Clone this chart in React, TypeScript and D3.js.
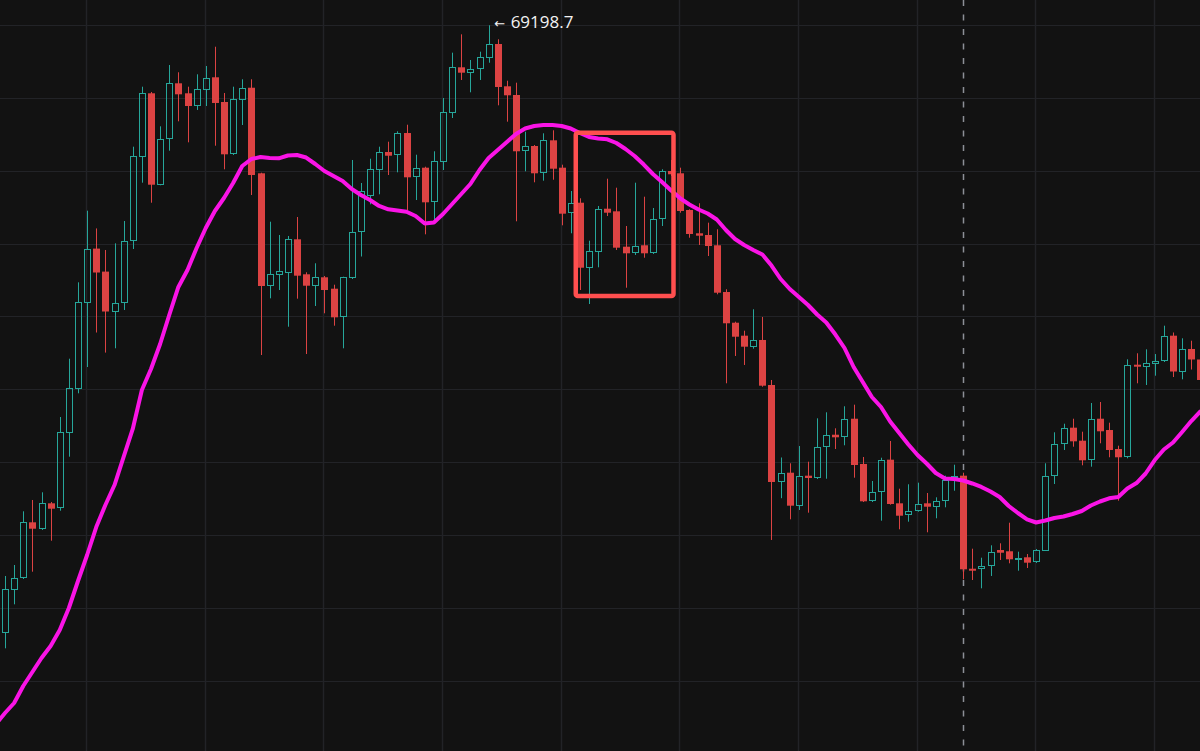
import React, { useEffect } from "react";
import * as d3 from "d3";

// ---- data ----
const opens = [67530.6,67649.4,67681.5,67835.1,67816.7,67887.2,67873.5,68080.9,68200.8,68437.6,68586.0,68522.9,68413.4,68438.1,68606.0,68838.1,69012.1,68761.3,68885.9,69039.5,69012.1,68977.2,69022.0,69056.0,68988.2,68844.7,68993.7,69027.4,68792.6,68484.2,68512.8,68519.9,68611.5,68515.5,68484.2,68507.3,68476.0,68397.5,68505.4,68630.2,68730.3,68801.6,68851.0,68842.8,68903.1,68781.6,68808.0,68713.0,68824.4,68957.2,69083.4,69068.6,69077.9,69109.7,69147.3,69031.3,69007.4,68853.8,68867.5,68792.6,68883.1,68808.0,68682.9,68711.9,68533.6,68577.5,68695.5,68688.3,68591.2,68573.1,68595.1,68573.1,68666.4,68798.9,68792.6,68691.9,68628.0,68623.3,68595.1,68466.9,68382.7,68347.1,68316.9,68335.3,68211.8,67946.2,67971.2,67880.7,67963.0,67956.7,68040.9,68075.4,68068.3,68119.3,67995.1,67892.7,67917.4,68006.9,67887.2,67854.3,67866.1,67887.2,67877.9,67893.6,67959.4,67963.0,67707.8,67706.2,67714.4,67759.1,67755.6,67734.4,67739.1,67725.4,67757.2,67962.1,68049.9,68094.7,68059.0,68006.0,68119.3,68088.3,68036.2,68013.5,68267.5,68262.0,68270.2,68277.6,68347.1,68248.3,68310.6,68281.8];
const highs = [67687.8,67718.0,67865.3,67896.3,67917.4,67890.8,68124.0,68283.9,68493.5,68690.0,68641.4,68582.2,68600.5,68661.7,68865.6,69030.2,69015.6,68921.5,69089.7,69069.7,69030.2,69064.2,69087.0,69139.9,69012.9,69030.2,69050.5,69050.5,68794.2,68659.8,68623.3,68620.6,68672.7,68521.0,68545.7,68510.8,68487.0,68508.9,68829.1,68766.0,68832.6,68865.6,68879.3,68907.8,68925.9,68843.6,68810.7,68853.0,68999.2,69123.5,69173.9,69103.4,69126.2,69198.7,69160.2,69046.6,69041.2,68906.7,68870.2,68902.3,68910.6,68816.2,68744.0,68724.0,68607.7,68702.9,68777.8,68753.1,68648.0,68766.8,68728.4,68697.4,68803.6,68829.1,68808.0,68693.8,68710.3,68657.1,68639.0,68474.4,68385.5,68360.8,68419.5,68398.4,68225.5,68012.9,67997.0,68044.4,68001.4,68120.4,68136.9,68093.0,68153.4,68157.8,68014.3,67948.4,68012.3,68058.2,67927.3,67939.4,67943.8,67915.5,67903.7,67963.0,67993.1,67971.2,67762.7,67738.0,67772.0,67777.5,67834.0,67754.5,67748.1,67761.9,67997.0,68082.0,68105.6,68119.3,68083.7,68162.4,68165.2,68108.4,68045.3,68282.3,68298.8,68309.7,68296.8,68374.5,68355.8,68339.9,68333.3,68302.3];
const lows = [67489.4,67610.1,67679.5,67699.6,67814.0,67784.6,67866.9,68015.1,68189.0,68261.1,68355.8,68300.7,68312.5,68417.6,68584.9,68766.8,68711.9,68759.7,68854.6,68935.2,68877.6,68966.3,68977.2,68868.3,68803.6,68842.8,68925.1,68733.1,68294.1,68449.6,68472.4,68371.7,68448.6,68296.8,68428.5,68408.5,68374.5,68312.5,68502.6,68564.3,68707.5,68735.0,68787.9,68795.3,68691.9,68719.3,68625.2,68664.5,68801.6,68944.3,69048.6,69014.8,69048.6,69096.0,68979.1,68934.2,68660.9,68798.1,68767.9,68772.3,68775.0,68649.9,68628.0,68472.4,68434.0,68534.7,68675.4,68582.2,68478.7,68568.5,68561.0,68571.2,68648.0,68785.2,68684.5,68615.9,68595.9,68565.7,68460.6,68216.5,68291.4,68266.7,68311.4,68207.1,67786.6,67901.2,67843.3,67868.9,67861.5,67953.9,67954.7,68036.2,68046.4,67957.5,67890.8,67890.8,67839.5,67883.4,67815.9,67836.8,67864.2,67807.7,67846.1,67876.3,67921.8,67678.7,67676.8,67654.0,67687.8,67731.7,67722.6,67702.3,67709.7,67723.5,67756.4,67940.2,68033.5,68042.5,67991.5,67987.7,68051.9,68013.5,67894.4,68010.7,68216.5,68211.8,68237.3,68274.9,68233.7,68227.4,68254.3,68220.0];
const closes = [67651.3,67683.1,67835.1,67817.5,67887.2,67872.4,68082.8,68202.7,68438.7,68586.0,68520.4,68413.4,68438.1,68606.9,68839.2,69012.1,68761.3,68887.5,69039.5,69009.3,68977.2,69023.1,69054.9,68985.5,68844.7,68995.6,69027.4,68787.9,68483.4,68515.5,68523.7,68611.5,68511.7,68484.2,68507.3,68472.4,68397.5,68507.3,68630.7,68744.0,68803.6,68850.2,68840.8,68903.1,68781.6,68806.3,68713.0,68827.2,68960.0,69083.4,69068.6,69078.7,69110.8,69147.3,69029.4,69006.6,68853.0,68867.5,68792.6,68883.1,68805.2,68681.8,68710.3,68533.6,68578.6,68695.5,68684.5,68588.5,68573.1,68594.0,68573.1,68666.4,68799.7,68789.9,68689.2,68626.1,68621.4,68593.1,68465.0,68381.1,68344.3,68316.9,68335.3,68209.9,67945.7,67971.2,67880.7,67963.0,67956.7,68042.5,68074.6,68068.3,68119.3,67992.3,67892.7,67919.1,68006.9,67885.3,67853.2,67866.9,67886.1,67877.9,67894.4,67951.2,67963.0,67706.2,67702.3,67714.4,67754.5,67751.7,67733.6,67738.0,67724.3,67759.1,67963.0,68050.8,68094.7,68057.3,68005.2,68119.3,68084.8,68033.5,68013.5,68266.7,68262.0,68271.3,68278.5,68347.1,68248.8,68310.6,68281.8,68225.5];

// moving average, starting one bar before the first visible candle (index -1)
const maStartIndex = -1;
const maValues = [67281.8,67311.9,67339.4,67386.0,67424.4,67462.8,67495.7,67539.6,67600.0,67674.1,67745.4,67822.2,67882.6,67937.4,68014.3,68091.1,68198.1,68255.7,68324.3,68403.8,68480.7,68527.3,68587.7,68642.5,68689.2,68724.8,68766.0,68812.6,68831.8,68837.3,68834.6,68833.7,68841.4,68842.8,68835.9,68818.1,68798.9,68785.2,68771.5,68749.5,68733.1,68719.3,68702.9,68693.8,68690.5,68687.2,68675.4,68654.9,68657.6,68680.9,68708.4,68735.8,68763.2,68801.6,68834.6,68856.5,68878.5,68900.4,68915.5,68922.4,68925.1,68925.1,68922.4,68915.5,68903.2,68892.2,68888.1,68885.9,68875.7,68859.3,68840.1,68816.7,68790.7,68768.7,68745.4,68724.0,68707.0,68693.3,68682.3,68665.8,68637.0,68612.3,68595.9,68582.2,68569.8,68539.6,68502.6,68475.2,68453.2,68431.3,68405.2,68383.3,68350.3,68313.3,68261.2,68220.0,68178.9,68151.4,68111.7,68080.1,68048.6,68019.8,67996.4,67970.4,67955.3,67953.9,67949.8,67941.6,67932.0,67919.6,67904.5,67879.8,67860.6,67843.3,67834.6,67840.1,67846.9,67851.0,67857.9,67866.1,67881.2,67892.2,67901.0,67904.5,67927.8,67942.9,67969.0,68006.0,68034.8,68054.0,68082.9,68113.0,68139.1];

const gridPrices = [69200, 69000, 68800, 68600, 68400, 68200, 68000, 67800, 67600, 67400];
const timeTickIndex = [9, 22, 35, 48, 61, 74, 87, 100, 113, 126];

const peakIndex = 53;
const peakLabel = "69198.7";
const markerIndex = 105;
const boxFromIndex = 62.55;
const boxToIndex = 73.26;
const boxTopPrice = 68904;
const boxBottomPrice = 68456;

const W = 1200;
const H = 751;
const BG = "#121212";
const GREEN = "#26a69a";
const RED = "#dc4343";
const MA_COLOR = "#fa14e6";
const BOX_COLOR = "#ff4f4f";
const GRID = "#222327";

export default function App() {
  useEffect(() => {
    document.body.style.margin = "0";
    document.body.style.background = BG;
  }, []);

  const x = d3.scaleLinear().domain([0, 131]).range([5, 5 + 9.125 * 131]);
  const y = d3.scaleLinear().domain([69200, 67200]).range([24.8, 24.8 + 729]);

  const maLine = d3
    .line<number>()
    .x((_, i) => x(i + maStartIndex))
    .y((v) => y(v))
    .curve(d3.curveLinear);

  const candles = opens.map((o, i) => {
    const c = closes[i];
    const h = highs[i];
    const l = lows[i];
    const cx = Math.round(x(i));
    const up = c >= o;
    const yTop = y(Math.max(o, c));
    const yBot = y(Math.min(o, c));
    const yH = y(h);
    const yL = y(l);
    if (up) {
      const top = Math.round(yTop) + 0.5;
      let bot = Math.round(yBot) - 0.5;
      if (bot < top + 1) bot = top + 1;
      return (
        <g key={i}>
          {yH < top - 0.5 && (
            <line x1={cx + 0.5} x2={cx + 0.5} y1={yH} y2={top - 0.5} stroke={GREEN} strokeWidth={1} />
          )}
          {yL > bot + 0.5 && (
            <line x1={cx + 0.5} x2={cx + 0.5} y1={bot + 0.5} y2={yL} stroke={GREEN} strokeWidth={1} />
          )}
          <rect x={cx - 2.5} y={top} width={6} height={bot - top} fill="none" stroke={GREEN} strokeWidth={1} />
        </g>
      );
    }
    const bh = Math.max(2, yBot - yTop);
    return (
      <g key={i}>
        <line x1={cx + 0.5} x2={cx + 0.5} y1={yH} y2={yL} stroke={RED} strokeWidth={1} />
        <rect x={cx - 3} y={yTop} width={7} height={bh} fill={RED} />
      </g>
    );
  });

  const bx0 = x(boxFromIndex);
  const bx1 = x(boxToIndex);
  const by0 = y(boxTopPrice);
  const by1 = y(boxBottomPrice);
  const markerX = Math.round(x(markerIndex)) + 0.5;
  const px = x(peakIndex);
  const py = y(highs[peakIndex]);

  return (
    <svg
      width={W}
      height={H}
      viewBox={`0 0 ${W} ${H}`}
      style={{ position: "fixed", left: 0, top: 0, display: "block", background: BG }}
    >
      <rect x={0} y={0} width={W} height={H} fill={BG} />
      <g>
        {gridPrices.map((p) => (
          <line key={p} x1={0} x2={W} y1={Math.round(y(p)) + 0.5} y2={Math.round(y(p)) + 0.5} stroke={GRID} strokeWidth={1} />
        ))}
        {timeTickIndex.map((t) => (
          <line key={t} x1={Math.round(x(t)) - 0.5} x2={Math.round(x(t)) - 0.5} y1={0} y2={H} stroke={GRID} strokeWidth={1.5} />
        ))}
      </g>
      <line x1={markerX} x2={markerX} y1={0} y2={H} stroke="#8d9097" strokeWidth={1.5} strokeDasharray="6 8.5" />
      <g>{candles}</g>
      <path d={maLine(maValues) || ""} fill="none" stroke={MA_COLOR} strokeWidth={4} strokeLinejoin="round" strokeLinecap="round" />
      <rect x={bx0} y={by0} width={bx1 - bx0} height={by1 - by0} rx={2} fill="none" stroke={BOX_COLOR} strokeWidth={4.5} />
      <text
        y={py + 3}
        fill="#f2f2f2"
        style={{ fontFamily: "'Open Sans', 'DejaVu Sans', sans-serif", fontSize: 17 }}
      >
        <tspan x={px + 5.5} style={{ fontFamily: "'DejaVu Sans', sans-serif", fontSize: 13 }}>←</tspan>
        <tspan x={px + 22}>{peakLabel}</tspan>
      </text>
    </svg>
  );
}
